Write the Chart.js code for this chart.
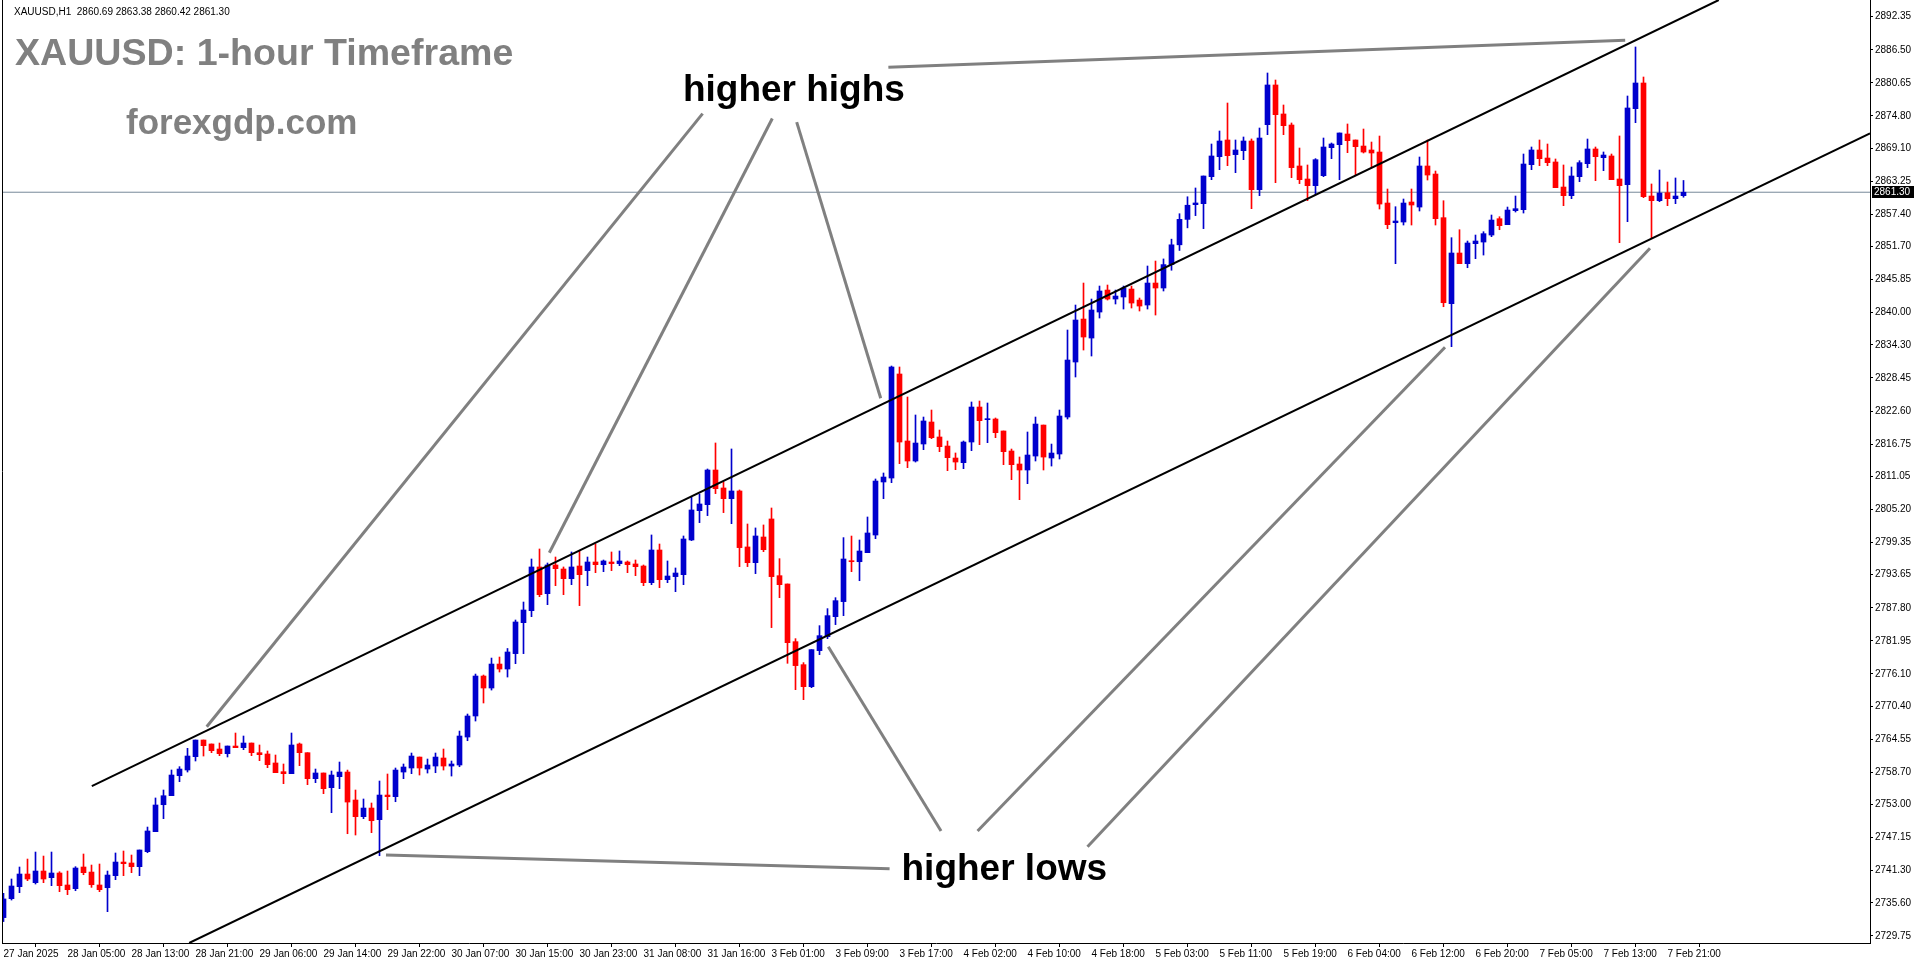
<!DOCTYPE html>
<html>
<head>
<meta charset="utf-8">
<title>XAUUSD H1</title>
<script src="https://cdn.jsdelivr.net/npm/chart.js@4.4.1/dist/chart.umd.min.js"></script>
<style>
  html, body { margin: 0; padding: 0; background: #fff; overflow: hidden; }
  canvas { display: block; }
</style>
</head>
<body>
<canvas id="chart" width="1916" height="964"></canvas>
<script>
// XAUUSD H1 candles, 27 Jan 20:00 -> 7 Feb 23:00 (one value per hourly bar)
const open = [
  2733.00,2736.35,2738.47,2740.71,2739.18,2741.24,2740.06,2740.89,2738.77,2738.12,
  2741.95,2741.06,2738.77,2738.29,2740.42,2742.83,2742.66,2742.01,2744.66,2748.20,
  2752.97,2754.57,2758.10,2759.11,2761.47,2764.41,2763.71,2762.82,2762.00,2763.35,
  2763.06,2763.88,2762.17,2761.94,2760.35,2758.81,2758.46,2763.71,2762.17,2757.57,
  2758.58,2755.98,2757.93,2758.75,2753.80,2750.85,2752.38,2750.32,2754.68,2754.39,
  2758.75,2759.46,2761.40,2759.28,2759.81,2761.23,2759.81,2759.99,2764.94,2768.66,
  2775.73,2773.61,2777.85,2776.97,2779.69,2785.17,2787.29,2795.02,2790.30,2795.37,
  2794.66,2792.95,2795.19,2794.37,2795.90,2795.43,2795.90,2795.61,2795.90,2795.55,
  2795.19,2792.24,2798.02,2792.77,2793.31,2793.66,2799.79,2804.98,2806.04,2812.17,
  2808.99,2807.10,2808.46,2798.56,2795.78,2800.32,2803.51,2793.48,2792.01,2781.81,
  2777.74,2773.85,2780.22,2782.69,2786.23,2788.89,2796.13,2795.95,2797.55,2800.67,
  2810.05,2810.75,2829.15,2817.30,2813.76,2816.77,2820.66,2818.01,2816.41,2814.29,
  2813.47,2817.12,2823.31,2821.07,2821.19,2819.07,2815.53,2813.23,2812.17,2814.64,
  2820.12,2814.29,2815.00,2821.54,2831.27,2838.87,2835.51,2840.11,2844.00,2842.41,
  2842.77,2844.18,2842.23,2841.35,2845.24,2844.36,2848.50,2852.00,2856.50,2859.10,
  2859.28,2864.05,2867.59,2870.54,2867.95,2868.65,2870.36,2861.75,2873.25,2880.27,
  2875.14,2873.19,2865.94,2863.64,2862.46,2864.23,2869.18,2869.71,2871.60,2870.54,
  2869.47,2868.77,2868.41,2859.39,2855.91,2856.03,2859.57,2858.68,2865.94,2864.52,
  2856.80,2841.59,2850.55,2848.66,2852.20,2852.49,2853.73,2856.62,2855.56,2858.04,
  2858.21,2866.17,2868.77,2867.35,2866.65,2862.22,2860.69,2864.05,2866.35,2868.95,
  2867.41,2867.71,2863.64,2862.64,2876.08,2880.62,2860.63,2859.81,2861.22,2860.16,
  2860.69
];
const high = [
  2737.30,2739.83,2741.95,2743.36,2744.60,2743.89,2744.60,2741.12,2741.24,2742.01,
  2744.25,2742.30,2742.48,2741.24,2744.43,2744.78,2744.07,2744.96,2749.02,2754.16,
  2755.57,2759.11,2759.70,2762.94,2764.41,2764.41,2763.71,2763.88,2763.35,2765.65,
  2765.12,2763.88,2763.53,2762.47,2761.76,2760.17,2765.65,2763.88,2762.17,2759.28,
  2758.58,2758.93,2760.52,2759.10,2755.57,2753.98,2753.27,2757.16,2758.40,2759.46,
  2760.17,2762.11,2761.40,2761.05,2762.11,2762.82,2760.70,2766.00,2769.01,2776.08,
  2775.91,2778.91,2779.09,2780.60,2785.64,2788.82,2796.43,2798.20,2795.72,2796.78,
  2795.02,2797.67,2797.85,2796.78,2799.08,2796.25,2797.67,2797.85,2796.08,2796.25,
  2795.37,2800.68,2799.08,2796.08,2794.84,2800.50,2807.40,2807.93,2812.35,2816.95,
  2810.05,2815.89,2808.64,2802.62,2801.92,2802.45,2805.45,2796.49,2792.01,2782.34,
  2778.10,2780.40,2784.64,2787.65,2789.59,2800.21,2800.49,2799.79,2803.86,2810.58,
  2811.64,2830.56,2830.39,2825.08,2821.90,2821.54,2822.78,2819.24,2817.30,2815.18,
  2817.30,2824.20,2824.37,2824.02,2821.37,2819.07,2815.88,2814.47,2818.89,2821.54,
  2820.12,2816.76,2822.78,2836.93,2841.35,2845.24,2842.41,2844.71,2844.89,2844.00,
  2844.71,2844.71,2842.59,2848.25,2849.13,2849.50,2853.00,2857.50,2860.50,2862.05,
  2864.17,2869.83,2872.13,2877.08,2870.54,2871.07,2870.72,2872.66,2882.39,2881.15,
  2876.73,2873.55,2869.12,2866.12,2867.24,2870.89,2870.01,2871.78,2873.37,2870.54,
  2872.48,2870.18,2871.24,2861.87,2858.74,2860.10,2861.87,2867.53,2870.53,2865.05,
  2859.80,2853.26,2854.67,2852.67,2853.73,2854.32,2857.27,2856.97,2858.68,2860.63,
  2868.06,2869.30,2870.54,2869.83,2867.18,2866.12,2865.76,2866.88,2870.71,2869.30,
  2868.42,2868.06,2871.25,2878.32,2886.99,2881.68,2862.76,2865.23,2863.11,2863.82,
  2863.38
];
const low = [
  2732.30,2736.11,2737.41,2739.53,2738.94,2739.18,2738.65,2737.59,2737.06,2737.76,
  2740.59,2738.35,2737.59,2734.05,2739.71,2740.42,2740.95,2740.42,2744.48,2748.20,
  2750.50,2754.57,2757.04,2758.75,2760.70,2761.58,2762.17,2761.64,2761.41,2763.06,
  2762.70,2761.64,2760.76,2759.52,2758.64,2756.69,2758.46,2759.87,2756.51,2756.87,
  2754.92,2751.56,2755.81,2747.84,2747.61,2750.50,2748.02,2743.95,2752.09,2753.50,
  2757.57,2758.46,2758.22,2758.57,2758.63,2759.10,2758.04,2759.69,2764.29,2767.77,
  2770.96,2773.25,2776.44,2775.55,2777.92,2779.69,2786.23,2789.77,2788.35,2791.71,
  2790.12,2791.89,2788.18,2791.71,2794.01,2794.19,2794.37,2795.25,2794.01,2793.48,
  2791.71,2791.89,2791.36,2792.24,2790.65,2791.89,2799.68,2802.86,2804.10,2807.99,
  2804.63,2802.68,2795.08,2795.08,2793.84,2797.73,2784.29,2789.59,2777.98,2773.32,
  2771.55,2773.67,2779.51,2782.34,2784.82,2786.41,2794.19,2792.59,2797.55,2800.02,
  2807.10,2809.93,2813.29,2812.58,2813.58,2815.77,2817.71,2815.41,2812.05,2812.23,
  2812.40,2815.59,2816.65,2817.00,2817.89,2813.11,2810.46,2806.92,2809.75,2813.76,
  2812.17,2812.87,2814.11,2821.19,2828.62,2833.39,2832.33,2839.05,2842.23,2841.53,
  2840.64,2840.82,2840.29,2840.64,2839.58,2843.83,2847.50,2851.00,2855.00,2857.16,
  2854.86,2863.52,2865.29,2866.00,2864.76,2867.06,2858.39,2860.69,2871.48,2862.99,
  2871.48,2863.88,2862.82,2859.81,2860.87,2864.05,2867.24,2863.52,2868.30,2864.41,
  2868.24,2865.58,2858.33,2854.85,2848.66,2855.50,2855.50,2857.98,2863.46,2855.50,
  2841.05,2833.98,2848.66,2847.95,2849.55,2850.19,2853.44,2854.67,2855.56,2857.80,
  2857.62,2865.29,2866.00,2866.00,2862.11,2858.92,2860.16,2863.17,2865.64,2863.34,
  2865.11,2863.52,2852.38,2856.09,2873.60,2860.34,2853.26,2859.63,2858.92,2859.28,
  2860.42
];
const close = [
  2736.30,2738.59,2740.71,2739.83,2741.24,2739.83,2740.89,2738.65,2737.94,2741.77,
  2740.95,2738.82,2737.94,2740.53,2742.83,2742.54,2742.01,2744.96,2748.32,2752.92,
  2754.56,2758.22,2759.28,2761.58,2764.41,2763.41,2762.53,2762.00,2763.35,2763.06,
  2763.88,2762.17,2761.82,2760.05,2758.64,2758.46,2763.53,2762.17,2757.57,2758.58,
  2755.81,2758.22,2758.75,2753.44,2750.85,2752.38,2750.14,2754.68,2754.39,2759.10,
  2759.64,2761.58,2759.46,2759.99,2761.40,2759.81,2760.17,2765.12,2768.66,2775.73,
  2773.61,2777.85,2776.97,2779.98,2785.29,2787.41,2795.02,2790.12,2795.37,2794.72,
  2792.95,2795.02,2793.66,2795.90,2795.43,2796.08,2795.61,2796.08,2795.43,2795.07,
  2792.24,2798.02,2792.77,2793.42,2793.95,2799.97,2805.10,2806.16,2812.17,2808.87,
  2807.10,2808.46,2798.44,2795.78,2800.50,2798.08,2793.31,2791.89,2781.63,2777.57,
  2773.85,2780.40,2782.87,2786.41,2789.06,2796.43,2795.95,2797.84,2801.03,2810.22,
  2810.93,2830.39,2817.12,2813.76,2816.94,2820.84,2817.89,2816.30,2814.35,2813.58,
  2817.12,2823.31,2820.89,2821.25,2818.77,2815.41,2813.11,2812.17,2814.82,2820.30,
  2814.46,2815.17,2821.72,2831.62,2838.70,2835.69,2840.47,2843.83,2842.41,2842.94,
  2844.36,2841.70,2841.17,2845.24,2844.36,2848.50,2852.00,2856.50,2859.00,2859.40,
  2864.17,2867.71,2870.36,2867.77,2868.77,2870.36,2861.75,2870.89,2880.27,2875.02,
  2873.07,2865.65,2863.52,2862.46,2867.06,2869.30,2869.83,2871.78,2870.42,2869.36,
  2868.41,2868.24,2859.21,2855.56,2856.21,2859.39,2859.04,2865.94,2864.34,2856.62,
  2841.76,2850.55,2848.66,2852.32,2852.67,2853.97,2856.38,2855.38,2858.15,2858.39,
  2866.29,2868.77,2867.24,2866.53,2862.11,2860.69,2864.17,2866.53,2868.95,2867.59,
  2867.88,2863.52,2862.46,2876.20,2880.62,2860.51,2859.81,2861.16,2860.16,2860.63,
  2861.30
];

// time axis labels, one every 8 bars
const timeLabels = [
  '27 Jan 2025','28 Jan 05:00','28 Jan 13:00','28 Jan 21:00','29 Jan 06:00','29 Jan 14:00',
  '29 Jan 22:00','30 Jan 07:00','30 Jan 15:00','30 Jan 23:00','31 Jan 08:00','31 Jan 16:00',
  '3 Feb 01:00','3 Feb 09:00','3 Feb 17:00','4 Feb 02:00','4 Feb 10:00','4 Feb 18:00',
  '5 Feb 03:00','5 Feb 11:00','5 Feb 19:00','6 Feb 04:00','6 Feb 12:00','6 Feb 20:00',
  '7 Feb 05:00','7 Feb 13:00','7 Feb 21:00'
];
const priceTicks = [
  2892.35,2886.50,2880.65,2874.80,2869.10,2863.25,2857.40,2851.70,2845.85,2840.00,
  2834.30,2828.45,2822.60,2816.75,2811.05,2805.20,2799.35,2793.65,2787.80,2781.95,
  2776.10,2770.40,2764.55,2758.70,2753.00,2747.15,2741.30,2735.60,2729.75
];

// channel and pointer lines, as [bar, price] pairs
const upperChannel = [[11.04, 2756.24], [214.41, 2895.30]];
const lowerChannel = [[23.21, 2728.51], [233.31, 2871.72]];
const pointerLines = [
  [[87.39, 2875.21], [25.40, 2766.77]],
  [[96.10, 2874.34], [68.23, 2797.54]],
  [[99.15, 2873.69], [109.65, 2824.85]],
  [[117.19, 2748.32], [103.10, 2780.92]],
  [[121.76, 2748.32], [180.19, 2833.87]],
  [[135.50, 2745.53], [205.81, 2851.38]],
  [[47.81, 2744.08], [110.76, 2741.64]],
  [[110.61, 2883.41], [202.71, 2888.17]]
];
const notes = [
  { text: 'higher highs', at: [98.8, 2877.44] },
  { text: 'higher lows', at: [125.1, 2739.65] }
];

const BULL = '#0000CD';
const BEAR = '#FF0000';
const X_MIN = -0.1875, X_MAX = 233.3125;
const Y_MIN = 2728.51, Y_MAX = 2895.30;
const lastClose = close[close.length - 1];

const idx = open.map((_, i) => i);
const colors = idx.map(i => close[i] >= open[i] ? BULL : BEAR);
const toPts = arr => arr.map(([x, y]) => ({ x, y }));

const datasets = [
  {
    type: 'line', data: toPts([[X_MIN, lastClose], [X_MAX, lastClose]]),
    borderColor: '#778899', borderWidth: 1, pointRadius: 0, order: 5
  },
  {
    type: 'bar', data: idx.map(i => ({ x: i, y: [low[i], high[i]] })),
    backgroundColor: colors, barThickness: 1, grouped: false, order: 4
  },
  {
    type: 'bar', data: idx.map(i => ({ x: i, y: [open[i], close[i]] })),
    backgroundColor: colors, barThickness: 5, grouped: false, minBarLength: 1, order: 3
  },
  {
    type: 'line', data: toPts(upperChannel), borderColor: '#000', borderWidth: 2, pointRadius: 0, order: 2
  },
  {
    type: 'line', data: toPts(lowerChannel), borderColor: '#000', borderWidth: 2, pointRadius: 0, order: 2
  }
];
pointerLines.forEach(l => datasets.push({
  type: 'line', data: toPts(l), borderColor: '#808080', borderWidth: 3, pointRadius: 0, order: 1
}));

const axisFont = { family: '"Liberation Sans", Arial, sans-serif', size: 10 };

const overlay = {
  id: 'overlay',
  afterDraw(chart) {
    const { ctx, chartArea: a, scales: { x, y } } = chart;
    ctx.save();
    // left frame
    ctx.strokeStyle = '#000';
    ctx.lineWidth = 1;
    ctx.beginPath();
    ctx.moveTo(a.left + 0.5, a.top);
    ctx.lineTo(a.left + 0.5, a.bottom);
    ctx.stroke();

    // header + titles
    ctx.fillStyle = '#000';
    ctx.textBaseline = 'alphabetic';
    ctx.textAlign = 'left';
    ctx.font = '10px "Liberation Sans", Arial, sans-serif';
    ctx.fillText('XAUUSD,H1  2860.69 2863.38 2860.42 2861.30', 14, 15);
    ctx.fillStyle = '#808080';
    ctx.font = 'bold 37.6px "Liberation Sans", Arial, sans-serif';
    ctx.fillText('XAUUSD: 1-hour Timeframe', 15, 65);
    ctx.font = 'bold 35px "Liberation Sans", Arial, sans-serif';
    ctx.fillText('forexgdp.com', 126, 134);

    // annotations
    ctx.fillStyle = '#000';
    ctx.textAlign = 'center';
    ctx.font = 'bold 37px "Liberation Sans", Arial, sans-serif';
    notes.forEach(n => ctx.fillText(n.text, x.getPixelForValue(n.at[0]), y.getPixelForValue(n.at[1])));

    // last price tag
    const py = Math.round(y.getPixelForValue(lastClose));
    ctx.fillStyle = '#000';
    ctx.fillRect(a.right + 2, py - 6, 42, 12);
    ctx.fillStyle = '#fff';
    ctx.textAlign = 'left';
    ctx.textBaseline = 'middle';
    ctx.font = '10px "Liberation Sans", Arial, sans-serif';
    ctx.fillText(lastClose.toFixed(2), a.right + 4, py + 0.5);
    ctx.restore();
  }
};

new Chart(document.getElementById('chart'), {
  type: 'bar',
  data: { datasets },
  options: {
    responsive: false,
    animation: false,
    layout: { padding: { left: 2, top: 0, right: 0, bottom: 0 } },
    plugins: { legend: { display: false }, tooltip: { enabled: false } },
    scales: {
      x: {
        type: 'linear',
        min: X_MIN,
        max: X_MAX,
        offset: false,
        grid: { display: true, drawOnChartArea: false, drawTicks: true, tickLength: 4, color: '#000' },
        border: { display: true, color: '#000', width: 1 },
        afterBuildTicks: s => { s.ticks = timeLabels.map((_, i) => ({ value: i * 8 })); },
        afterFit: s => { s.height = 21; s.paddingLeft = 0; s.paddingRight = 0; },
        ticks: {
          autoSkip: false, maxRotation: 0, minRotation: 0, align: 'start', padding: 1,
          color: '#000', font: axisFont,
          callback: v => timeLabels[Math.round(v / 8)]
        }
      },
      y: {
        type: 'linear',
        position: 'right',
        min: Y_MIN,
        max: Y_MAX,
        grid: { display: true, drawOnChartArea: false, drawTicks: true, tickLength: 3, color: '#000' },
        border: { display: true, color: '#000', width: 1 },
        afterBuildTicks: s => { s.ticks = priceTicks.map(v => ({ value: v })); },
        afterFit: s => { s.width = 46; s.paddingTop = 0; s.paddingBottom = 0; },
        ticks: {
          padding: 2, color: '#000', font: axisFont,
          callback: v => v.toFixed(2)
        }
      }
    }
  },
  plugins: [overlay]
});
</script>
</body>
</html>
